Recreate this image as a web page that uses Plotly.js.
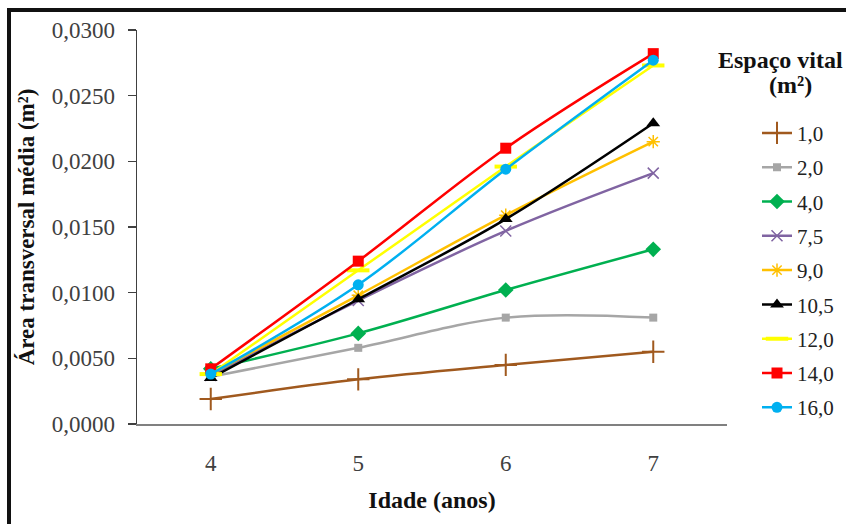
<!DOCTYPE html>
<html>
<head>
<meta charset="utf-8">
<script src="https://cdn.plot.ly/plotly-3.0.1.min.js"></script>
<style>
  html, body { margin: 0; padding: 0; background: #fff; overflow: hidden; }
  #chart { position: absolute; left: 0; top: 0; width: 846px; height: 524px; }
  #frame {
    position: absolute; left: 7px; top: 8px; width: 900px; height: 600px;
    border: 4px solid #111; box-sizing: border-box; pointer-events: none;
  }
</style>
</head>
<body>
<div id="chart"></div>
<div id="frame"></div>
<script>
// Idade (anos)
const ages = [4, 5, 6, 7];
const ageLabels = ['4', '5', '6', '7'];

// Espaço vital (m²) – legend labels
const spaceLabels = ['1,0', '2,0', '4,0', '7,5', '9,0', '10,5', '12,0', '14,0', '16,0'];

// Área transversal média (m²) per spacing
const area_1_0  = [0.0019, 0.0034, 0.0045, 0.0055];
const area_2_0  = [0.0036, 0.0058, 0.0081, 0.0081];
const area_4_0  = [0.0042, 0.0069, 0.0102, 0.0133];
const area_7_5  = [0.0037, 0.0094, 0.0147, 0.0191];
const area_9_0  = [0.0038, 0.0098, 0.0159, 0.0215];
const area_10_5 = [0.0035, 0.0095, 0.0156, 0.0229];
const area_12_0 = [0.0038, 0.0117, 0.0196, 0.0273];
const area_14_0 = [0.0042, 0.0124, 0.0210, 0.0282];
const area_16_0 = [0.0038, 0.0106, 0.0194, 0.0277];

const series = [area_1_0, area_2_0, area_4_0, area_7_5, area_9_0,
                area_10_5, area_12_0, area_14_0, area_16_0];

const styles = [
  { color: '#a0591e', symbol: 'cross-thin',    size: 16, lw: 2 },
  { color: '#a6a6a6', symbol: 'square',        size: 8,  lw: 0 },
  { color: '#00b050', symbol: 'diamond',       size: 12, lw: 0 },
  { color: '#8064a2', symbol: 'x-thin',        size: 11, lw: 1.5 },
  { color: '#ffc000', symbol: 'asterisk-open', size: 11, lw: 1.5 },
  { color: '#000000', symbol: 'triangle-up',   size: 12, lw: 0 },
  { color: '#ffff00', symbol: 'line-ew',       size: 16, lw: 4 },
  { color: '#ff0000', symbol: 'square',        size: 11, lw: 0 },
  { color: '#00b0f0', symbol: 'circle',        size: 11, lw: 0 }
];

const serif = 'Liberation Serif';

const traces = series.map((vals, i) => {
  const s = styles[i];
  return {
    type: 'scatter',
    mode: 'lines+markers',
    x: ages,
    y: vals,
    name: spaceLabels[i],
    legendgroup: 'g' + i,
    line: { color: s.color, width: 2.5, shape: 'spline', smoothing: 1 },
    marker: {
      color: s.color, symbol: s.symbol, size: s.size,
      line: { color: s.color, width: s.lw }
    },
    hoverinfo: 'x+y+name'
  };
});

const layout = {
  width: 846,
  height: 524,
  margin: { l: 137, r: 119, t: 30, b: 100 },
  paper_bgcolor: '#ffffff',
  plot_bgcolor: '#ffffff',
  separators: ', ',
  font: { family: serif, size: 21, color: '#404040' },
  showlegend: true,
  xaxis: {
    range: [3.5, 7.5],
    tickvals: ages,
    ticktext: ageLabels,
    showgrid: false,
    zeroline: false,
    showline: true,
    linecolor: '#808080',
    linewidth: 2,
    ticks: 'outside',
    ticklen: 17,
    tickcolor: 'rgba(0,0,0,0)',
    tickfont: { family: serif, size: 23, color: '#404040' },
    title: {
      text: 'Idade (anos)',
      font: { family: serif, size: 24, color: '#111', weight: 'bold' },
      standoff: 17
    },
    fixedrange: true
  },
  yaxis: {
    range: [0, 0.03],
    dtick: 0.005,
    tickformat: '.4f',
    showgrid: false,
    zeroline: false,
    showline: true,
    linecolor: '#404040',
    linewidth: 1.5,
    ticks: 'outside',
    ticklen: 8,
    tickwidth: 1.5,
    tickcolor: '#404040',
    ticklabelstandoff: 8,
    tickfont: { family: serif, size: 23, color: '#404040' },
    title: {
      text: 'Área transversal média (m²)',
      font: { family: serif, size: 23, color: '#111', weight: 'bold' },
      standoff: 10
    },
    fixedrange: true
  },
  legend: {
    xref: 'container',
    x: 0.8948,
    xanchor: 'left',
    y: 0.79,
    yanchor: 'top',
    traceorder: 'grouped',
    tracegroupgap: 4,
    bgcolor: 'rgba(0,0,0,0)',
    borderwidth: 0,
    font: { family: serif, size: 21, color: '#222' }
  },
  annotations: [
    {
      text: 'Espaço vital', xref: 'paper', yref: 'paper',
      x: 1.09, y: 0.925, xanchor: 'center', yanchor: 'middle',
      showarrow: false,
      font: { family: serif, size: 24, color: '#111', weight: 'bold' }
    },
    {
      text: '(m²)', xref: 'paper', yref: 'paper',
      x: 1.107, y: 0.86, xanchor: 'center', yanchor: 'middle',
      showarrow: false,
      font: { family: serif, size: 24, color: '#111', weight: 'bold' }
    }
  ]
};

Plotly.newPlot('chart', traces, layout, { displayModeBar: false, staticPlot: true });
</script>
</body>
</html>
